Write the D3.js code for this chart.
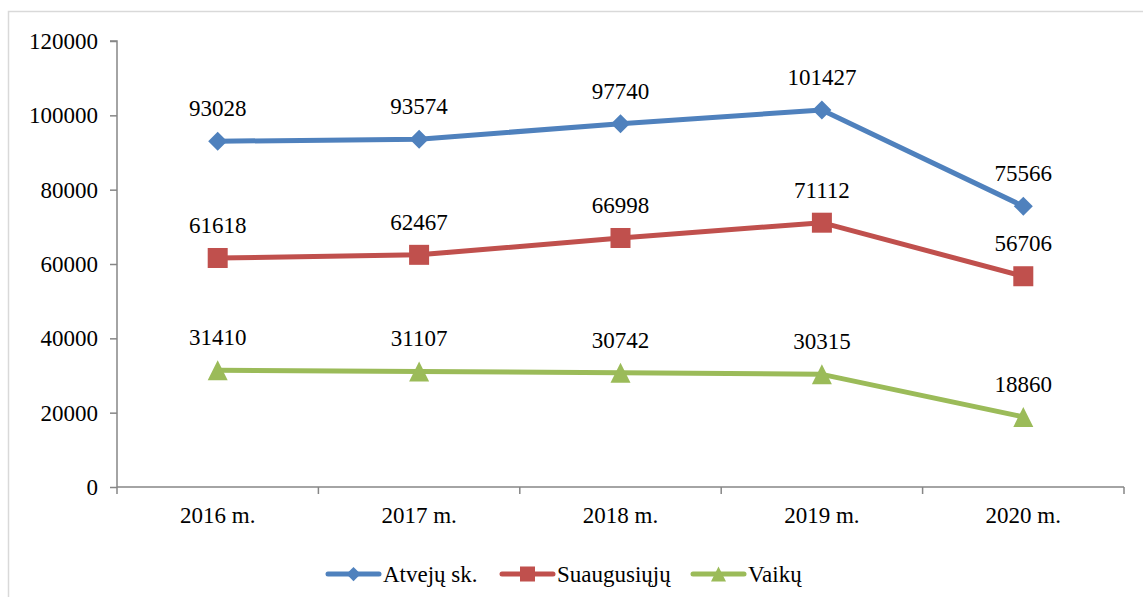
<!DOCTYPE html>
<html><head><meta charset="utf-8">
<script src="https://cdn.jsdelivr.net/npm/d3@7"></script>
<style>body{margin:0;background:#fff;}</style>
</head><body>
<svg id="c" width="1143" height="597"></svg>
<script>
const categories = ["2016 m.","2017 m.","2018 m.","2019 m.","2020 m."];
const atvejuSk = [93028, 93574, 97740, 101427, 75566];
const suaugusiuju = [61618, 62467, 66998, 71112, 56706];
const vaiku = [31410, 31107, 30742, 30315, 18860];
const seriesNames = ["Atvejų sk.","Suaugusiųjų","Vaikų"];
const yTicks = [0,20000,40000,60000,80000,100000,120000];

(function(){
const FONT = "'Liberation Serif', 'Times New Roman', Times, serif";
const series = [
  {name: seriesNames[0], values: atvejuSk, color: "#4F81BD", shape: "diamond"},
  {name: seriesNames[1], values: suaugusiuju, color: "#C0504D", shape: "square"},
  {name: seriesNames[2], values: vaiku, color: "#9BBB59", shape: "triangle"}
];

const svg = d3.select("#c");
svg.append("rect").attr("x",8.5).attr("y",11.5).attr("width",1145).attr("height",600)
  .attr("fill","#fff").attr("stroke","#d9d9d9").attr("stroke-width",1.5);

const pL = 117, pR = 1124, pT = 41, pB = 487;
const x = d3.scaleBand().domain(categories).range([pL,pR]);
const y = d3.scaleLinear().domain([0,120000]).range([pB,pT]);
const fs = "23px";

// Y axis
const yAxis = svg.append("g").attr("transform",`translate(${pL},0)`)
  .call(d3.axisLeft(y).tickValues(yTicks).tickSize(7).tickPadding(12).tickFormat(d3.format("d")));
yAxis.attr("font-family", null);
yAxis.selectAll("text").style("font-size",fs).attr("fill","#000").style("font-family",FONT);
yAxis.selectAll("line,path").attr("stroke","#868686").attr("stroke-width",1.5);
yAxis.select("path").attr("d",`M-7,${pT}H0V${pB}`);

// X axis
const xAxis = svg.append("g").attr("transform",`translate(0,${pB})`)
  .call(d3.axisBottom(x).tickSize(0).tickPadding(20));
xAxis.attr("font-family", null);
xAxis.selectAll("text").style("font-size",fs).attr("fill","#000").style("font-family",FONT);
xAxis.select("path").attr("stroke","#868686").attr("stroke-width",1.5).attr("d",`M${pL},0H${pR}`);
const bounds = categories.map(c=>x(c)).concat([x(categories[categories.length-1])+x.bandwidth()]);
xAxis.selectAll(".bt").data(bounds).enter().append("line")
  .attr("x1",d=>d).attr("x2",d=>d).attr("y1",0).attr("y2",7)
  .attr("stroke","#868686").attr("stroke-width",1.5);

const cx = c => x(c) + x.bandwidth()/2;
const line = d3.line().x((d,i)=>cx(categories[i])).y(d=>y(d));

function marker(g, shape, color, px, py, s){
  if(shape==="diamond"){
    g.append("path").attr("d",`M${px},${py-s}L${px+s},${py}L${px},${py+s}L${px-s},${py}Z`).attr("fill",color);
  } else if(shape==="square"){
    g.append("rect").attr("x",px-s).attr("y",py-s).attr("width",2*s).attr("height",2*s).attr("fill",color);
  } else {
    g.append("path").attr("d",`M${px},${py-s}L${px+s},${py+s}L${px-s},${py+s}Z`).attr("fill",color);
  }
}
const sizes = {diamond:9.5, square:10, triangle:10};

series.forEach(s=>{
  const g = svg.append("g");
  g.append("path").datum(s.values).attr("d",line).attr("fill","none")
    .attr("stroke",s.color).attr("stroke-width",5).attr("stroke-linejoin","round");
  s.values.forEach((v,i)=>{
    marker(g, s.shape, s.color, cx(categories[i]), y(v), sizes[s.shape]);
    g.append("text").attr("x",cx(categories[i])).attr("y",y(v)-25)
      .attr("text-anchor","middle").style("font-size",fs).style("font-family",FONT).attr("fill","#000").text(v);
  });
});

// Legend
const legendX = [328, 502, 693];
const ly = 574;
series.forEach((s,i)=>{
  const g = svg.append("g");
  const x0 = legendX[i];
  g.append("line").attr("x1",x0).attr("x2",x0+51).attr("y1",ly).attr("y2",ly)
    .attr("stroke",s.color).attr("stroke-width",5).attr("stroke-linecap","round");
  marker(g, s.shape, s.color, x0+25.5, ly, sizes[s.shape]*0.75);
  g.append("text").attr("x",x0+55).attr("y",ly+8).style("font-size",fs).style("font-family",FONT).attr("fill","#000").text(s.name);
});
})();
</script>
</body></html>
